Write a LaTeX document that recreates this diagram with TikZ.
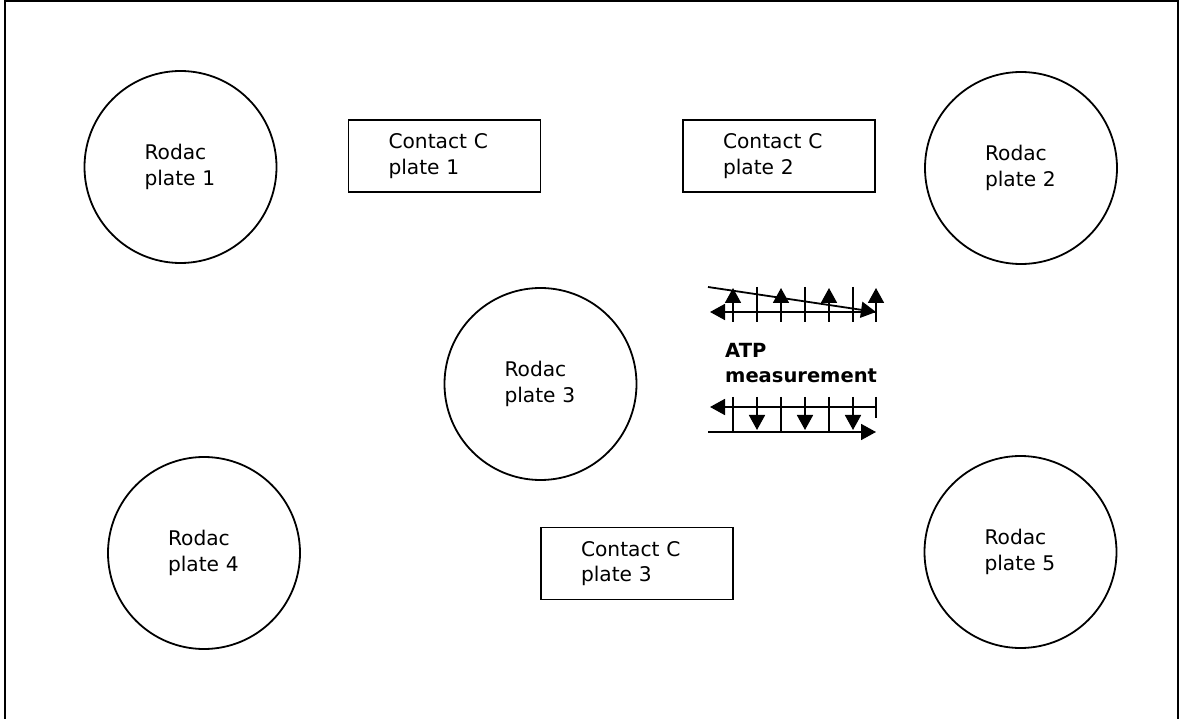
\documentclass[tikz,border=0pt]{standalone}
\usepackage{fontspec}
\setmainfont{DejaVu Sans}
\usetikzlibrary{arrows.meta}
\begin{document}
\begin{tikzpicture}[x=1pt,y=-1pt,
  lbl/.style={font=\fontsize{20.2}{25.5}\selectfont},
  plate/.style={lbl,circle,draw,line width=1.8pt,minimum size=192pt,inner sep=0pt,text width=72pt,align=left},
  contact/.style={lbl,rectangle,draw,line width=1.8pt,minimum height=72pt,inner ysep=0pt,inner xsep=40pt,text width=112pt,align=left},
  arr/.style={line width=1.8pt,-{Triangle[width=16pt,length=15pt]}},
  tickline/.style={line width=1.8pt}]
\useasboundingbox (0,0) rectangle (1179,719);
\begin{scope}
\clip (0,0) rectangle (1179,719);
\draw[line width=2.4pt] (5,0.5) rectangle (1178,740);
\end{scope}
% Rodac plates
\node[plate] (c1) at (180.5,167) {Rodac\\plate 1};
\node[plate] (c2) at (1021,168) {Rodac\\plate 2};
\node[plate] (c3) at (540.5,384) {Rodac\\plate 3};
\node[plate] (c4) at (204,553) {Rodac\\plate 4};
\node[plate] (c5) at (1020.5,552) {Rodac\\plate 5};
% Contact plates
\node[contact] (r1) at (444.5,156) {Contact C\\plate 1};
\node[contact] (r2) at (779,156) {Contact C\\plate 2};
\node[contact] (r3) at (637,563.5) {Contact C\\plate 3};
% ATP label
\node[anchor=west,inner sep=0pt,align=left,font=\fontsize{19.5}{25}\selectfont\bfseries] (atp) at (725,363.5) {ATP\\measurement};
% upper arrow group
\foreach \x in {757,805,853} \draw[tickline] (\x,287) -- (\x,322);
\foreach \x in {733,781,829,876} \draw[arr] (\x,322) -- (\x,288);
\draw[arr] (876,312) -- (710,312);
\draw[arr] (708,287) -- (876,312);
% lower arrow group
\draw[arr] (876,407) -- (710,407);
\foreach \x in {733,781,829} \draw[tickline] (\x,397) -- (\x,432);
\draw[tickline] (876,397) -- (876,418);
\foreach \x in {757,805,853} \draw[arr] (\x,397) -- (\x,430);
\draw[arr] (708,432) -- (876,432);
\end{tikzpicture}
\end{document}
